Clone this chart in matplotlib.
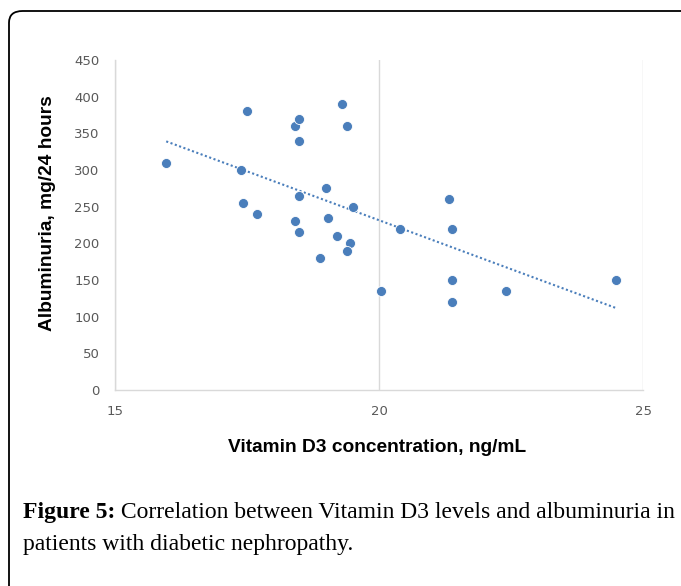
import matplotlib.pyplot as plt
from matplotlib.patches import FancyBboxPatch
import numpy as np

# values
vitamin_d3 = [15.97, 17.5, 17.39, 17.42, 17.69, 18.4, 18.49, 18.49, 18.49, 18.4,
              18.49, 18.88, 19.0, 19.04, 19.2, 19.29, 19.39, 19.45, 19.39, 19.5,
              20.39, 20.03, 21.33, 21.39, 21.39, 21.39, 22.4, 24.49]
albuminuria = [310, 380, 300, 255, 240, 360, 370, 340, 265, 230,
               215, 180, 275, 235, 210, 390, 360, 200, 190, 250,
               220, 135, 260, 220, 150, 120, 135, 150]
x_ticks = [15, 20, 25]
y_ticks = [0, 50, 100, 150, 200, 250, 300, 350, 400, 450]

blue = '#4a7ebb'
grey_txt = '#595959'
grid_col = '#d9d9d9'

fig = plt.figure(figsize=(6.81, 5.86), dpi=100)
W, H = 681, 586

# rounded frame around the figure (runs off the right and bottom edges)
frame = FancyBboxPatch((9 / W, 1 - 11 / H - 1.2), 1.2, 1.2,
                       boxstyle='round,pad=0,rounding_size=0.02',
                       transform=fig.transFigure, fill=False,
                       edgecolor='black', linewidth=1.3)
fig.patches.append(frame)

ax = fig.add_axes([115 / W, 1 - 390 / H, 528 / W, 330 / H])
ax.scatter(vitamin_d3, albuminuria, s=52, color=blue, edgecolors='white',
           linewidths=0.6, zorder=3)

# linear trend line
k, b = np.polyfit(vitamin_d3, albuminuria, 1)
xs = np.array([min(vitamin_d3), max(vitamin_d3)])
ax.plot(xs, k * xs + b, linestyle=(0, (1, 1.2)), color=blue, linewidth=1.5, zorder=2)

ax.set_xlim(15, 25)
ax.set_ylim(0, 450)
ax.set_xticks(x_ticks)
ax.set_yticks(y_ticks)
ax.grid(axis='x', color=grid_col, linewidth=1)
ax.set_axisbelow(True)
for s in ['top', 'right']:
    ax.spines[s].set_visible(False)
for s in ['left', 'bottom']:
    ax.spines[s].set_color(grid_col)
    ax.spines[s].set_linewidth(1)
ax.tick_params(length=0, pad=11, labelcolor=grey_txt, labelsize=9.5)

fig.text(48 / W, 1 - 213 / H, 'Albuminuria, mg/24 hours', rotation=90,
         ha='center', va='center', fontsize=13.8, fontweight='bold',
         family=['Liberation Sans', 'DejaVu Sans'])
fig.text(377 / W, 1 - 448 / H, 'Vitamin D3 concentration, ng/mL',
         ha='center', va='center', fontsize=13.8, fontweight='bold',
         family=['Liberation Sans', 'DejaVu Sans'])

# caption
serif = ['Liberation Serif', 'DejaVu Serif']
t1 = fig.text(23 / W, 1 - 518 / H, 'Figure 5:', ha='left', va='baseline',
              fontsize=17, fontweight='bold', family=serif)
ax.annotate(' Correlation between Vitamin D3 levels and albuminuria in',
            xy=(1, 0), xycoords=t1, ha='left', va='bottom',
            fontsize=17, family=serif, annotation_clip=False)
fig.text(23 / W, 1 - 550 / H, 'patients with diabetic nephropathy.', ha='left',
         va='baseline', fontsize=17, family=serif)

fig.savefig('out.png', dpi=100)
